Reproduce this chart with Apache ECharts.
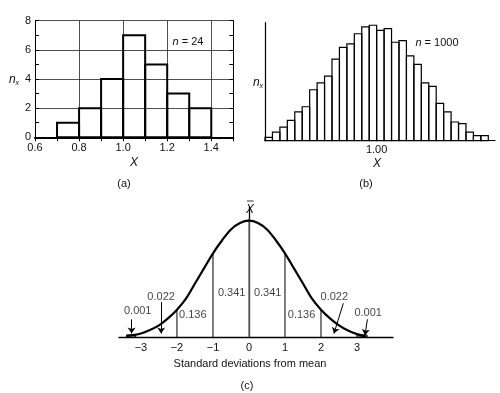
<!DOCTYPE html>
<html><head><meta charset="utf-8">
<script src="https://cdn.jsdelivr.net/npm/echarts@6/dist/echarts.min.js"></script>
<style>html,body{margin:0;padding:0;background:#fff}#c{width:500px;height:393px}</style>
</head><body><div id="c"></div>
<script>
// ---------- Panel (a): n = 24 ----------
const aBinStarts = [0.7, 0.8, 0.9, 1.0, 1.1, 1.2, 1.3];
const aBinWidth = 0.1;
const aCounts = [1, 2, 4, 7, 5, 3, 2];
const aXTicks = [0.6, 0.8, 1.0, 1.2, 1.4];
const aYTicks = [0, 2, 4, 6, 8];

// ---------- Panel (b): n = 1000 ----------
const bBinStart = 0.70;
const bBinWidth = 0.02;
const bCounts = [2, 5, 8, 12, 17, 20, 30, 34, 38, 48, 55, 57, 63, 67, 68,
                 65, 66, 58, 59, 50, 45, 34, 32, 22, 17, 11, 10, 5, 3, 3];
const bXTickValues = [1.0];
const bXTickLabels = ['1.00'];

// ---------- Panel (c): normal curve ----------
const cCurveX = [-3.4, -3.25, -3, -2.75, -2.5, -2.25, -2, -1.75, -1.5, -1.25, -1, -0.75, -0.5, -0.25, 0,
                 0.25, 0.5, 0.75, 1, 1.25, 1.5, 1.75, 2, 2.25, 2.5, 2.75, 3, 3.25];
const cCurveY = [0.008, 0.015, 0.03, 0.06, 0.10, 0.16, 0.235, 0.33, 0.46, 0.59, 0.72, 0.83, 0.925, 0.98, 1.0,
                 0.98, 0.925, 0.83, 0.72, 0.59, 0.46, 0.33, 0.235, 0.16, 0.10, 0.055, 0.025, 0.004];
const cTicks = [-3, -2, -1, 0, 1, 2, 3];
const cDividerX = [-2, -1, 0, 1, 2];
const cDividerH = [0.235, 0.72, 1.02, 0.72, 0.235];
const cInnerLabels = ['0.136', '0.341', '0.341', '0.136'];
const cInnerLabelPos = [[-1.56, 0.19], [-0.48, 0.376], [0.52, 0.376], [1.46, 0.19]];
const cTailLabels = ['0.001', '0.022', '0.022', '0.001'];
const cTailLabelPos = [[-3.09, 0.224], [-2.44, 0.347], [2.37, 0.344], [3.31, 0.206]];
const cArrows = [
  [[-3.26, 0.152], [-3.26, 0.03]],
  [[-2.44, 0.30], [-2.44, 0.03]],
  [[2.62, 0.29], [2.36, 0.03]],
  [[3.29, 0.152], [3.22, 0.015]]
];
const cTailBoxes = [[-3.4, -3.15, 0.018], [3.0, 3.28, 0.018]];

const FONT = '"Liberation Sans", Arial, sans-serif';
const BLACK = '#111';

const chart = echarts.init(document.getElementById('c'), null, {renderer: 'canvas'});

function rectItem(params, api, lw) {
  const p0 = api.coord([api.value(0), 0]);
  const p1 = api.coord([api.value(1), api.value(2)]);
  return {
    type: 'rect',
    shape: {x: p0[0], y: p1[1], width: p1[0] - p0[0], height: p0[1] - p1[1]},
    style: {fill: 'none', stroke: '#000', lineWidth: lw}
  };
}

const hiddenAxisBits = {axisTick: {show: false}, axisLabel: {show: false}, splitLine: {show: false}};

const option = {
  backgroundColor: '#fff',
  animation: false,
  grid: [
    {left: 35, top: 20.7, width: 198.3, height: 116.6, outerBoundsMode: 'none'},
    {left: 265, top: 22.7, width: 230, height: 118, outerBoundsMode: 'none'},
    {left: 119, top: 207, width: 274, height: 130, outerBoundsMode: 'none'}
  ],
  xAxis: [
    { gridIndex: 0, type: 'value', min: 0.6, max: 1.5, interval: 0.2, position: 'bottom',
      axisLine: {lineStyle: {color: '#000', width: 2}},
      axisTick: {show: false},
      axisLabel: {color: BLACK, fontSize: 11, fontFamily: FONT, margin: 5,
        formatter: v => { const t = aXTicks.find(k => Math.abs(k - v) < 1e-6); return t === undefined ? '' : t.toFixed(1); }},
      splitLine: {show: true, lineStyle: {color: '#222', width: 0.8}} },
    { gridIndex: 0, type: 'value', min: 0.6, max: 1.5, interval: 0.1, position: 'top',
      axisLine: {show: true, lineStyle: {color: '#000', width: 1}},
      axisTick: {show: true, inside: true, length: 4, lineStyle: {color: '#000'}},
      axisLabel: {show: false}, splitLine: {show: false} },
    { gridIndex: 1, type: 'value', min: 0.70, max: 1.318,
      axisLine: {lineStyle: {color: '#000', width: 1.2}},
      axisTick: {show: false},
      axisLabel: {color: BLACK, fontSize: 11, fontFamily: FONT, margin: 4,
        customValues: bXTickValues,
        formatter: v => { const i = bXTickValues.findIndex(k => Math.abs(k - v) < 1e-6); return i < 0 ? '' : bXTickLabels[i]; }},
      splitLine: {show: false} },
    { gridIndex: 2, type: 'value', min: -3.61, max: 4.0,
      axisLine: {lineStyle: {color: '#000', width: 1.3}},
      axisTick: {show: false},
      axisLabel: {color: BLACK, fontSize: 11, fontFamily: FONT, margin: 5,
        customValues: cTicks,
        formatter: v => String(Math.round(v)).replace('-', '\u2212')},
      splitLine: {show: false} }
  ],
  yAxis: [
    { gridIndex: 0, type: 'value', min: 0, max: 8, interval: 2, position: 'left',
      axisLine: {show: true, lineStyle: {color: '#000', width: 1}},
      axisTick: {show: false},
      axisLabel: {color: BLACK, fontSize: 11, fontFamily: FONT, margin: 4,
        formatter: v => aYTicks.includes(v) ? String(v) : ''},
      splitLine: {show: true, lineStyle: {color: '#222', width: 0.8}} },
    { gridIndex: 0, type: 'value', min: 0, max: 8, interval: 1, position: 'right',
      axisLine: {show: true, lineStyle: {color: '#000', width: 1}},
      axisTick: {show: true, inside: true, length: 4, lineStyle: {color: '#000'}},
      axisLabel: {show: false}, splitLine: {show: false} },
    { gridIndex: 0, type: 'value', min: 0, max: 8, interval: 1, position: 'left',
      axisLine: {show: false},
      axisTick: {show: true, inside: true, length: 4, lineStyle: {color: '#000'}},
      axisLabel: {show: false}, splitLine: {show: false} },
    Object.assign({ gridIndex: 1, type: 'value', min: 0, max: 69.5,
      axisLine: {show: true, lineStyle: {color: '#000', width: 1.2}} }, hiddenAxisBits),
    Object.assign({ gridIndex: 2, type: 'value', min: 0, max: 1.118,
      axisLine: {show: true, lineStyle: {color: '#000', width: 1.3}} }, hiddenAxisBits)
  ],
  series: [
    { type: 'custom', xAxisIndex: 0, yAxisIndex: 0, silent: true, z: 5,
      data: aBinStarts.map((s, i) => [s, s + aBinWidth, aCounts[i]]),
      renderItem: (p, api) => rectItem(p, api, 2) },
    { type: 'custom', xAxisIndex: 2, yAxisIndex: 3, silent: true, z: 5,
      data: bCounts.map((c, i) => [bBinStart + i * bBinWidth, bBinStart + (i + 1) * bBinWidth, c]),
      renderItem: (p, api) => rectItem(p, api, 1.2) },
    { type: 'line', xAxisIndex: 3, yAxisIndex: 4, silent: true, z: 6,
      data: cCurveX.map((x, i) => [x, cCurveY[i]]),
      smooth: 0.35, showSymbol: false, symbol: 'none',
      lineStyle: {color: '#000', width: 2.2} },
    { type: 'custom', xAxisIndex: 3, yAxisIndex: 4, silent: true, z: 4,
      data: cDividerX.map((x, i) => [x, cDividerH[i]]),
      renderItem: (p, api) => {
        const a = api.coord([api.value(0), 0]);
        const b = api.coord([api.value(0), api.value(1)]);
        const isMean = Math.abs(api.value(0)) < 1e-9;
        return {type: 'line', shape: {x1: a[0], y1: a[1], x2: b[0], y2: b[1]},
          style: {stroke: isMean ? '#777' : '#000', lineWidth: isMean ? 1.4 : 1}};
      } },
    { type: 'custom', xAxisIndex: 3, yAxisIndex: 4, silent: true, z: 4,
      data: cTailBoxes,
      renderItem: (p, api) => rectItem(p, api, 1) },
    { type: 'lines', coordinateSystem: 'cartesian2d', xAxisIndex: 3, yAxisIndex: 4, silent: true, z: 7,
      polyline: false,
      symbol: ['none', 'arrow'], symbolSize: 6,
      lineStyle: {color: '#000', width: 1, opacity: 1, curveness: 0},
      data: cArrows.map(c => ({coords: c})) },
    { type: 'scatter', xAxisIndex: 3, yAxisIndex: 4, silent: true, z: 8,
      symbolSize: 1, itemStyle: {color: 'rgba(0,0,0,0)'},
      label: {show: true, position: 'inside', formatter: '{b}', color: BLACK, fontSize: 11, fontFamily: FONT},
      data: cInnerLabels.map((t, i) => ({name: t, value: cInnerLabelPos[i]})) },
    { type: 'scatter', xAxisIndex: 3, yAxisIndex: 4, silent: true, z: 8,
      symbolSize: 1, itemStyle: {color: 'rgba(0,0,0,0)'},
      label: {show: true, position: 'inside', formatter: '{b}', color: BLACK, fontSize: 11, fontFamily: FONT},
      data: cTailLabels.map((t, i) => ({name: t, value: cTailLabelPos[i]})) }
  ],
  graphic: [
    {type: 'text', x: 14, y: 80, style: {text: '{n|n}{s|x}', align: 'center', verticalAlign: 'middle',
      rich: {n: {fontSize: 12, fontStyle: 'italic', fontFamily: FONT, fill: BLACK, color: BLACK},
             s: {fontSize: 7, fontStyle: 'italic', fontFamily: FONT, fill: BLACK, color: BLACK, padding: [6, 0, 0, 0]}}}},
    {type: 'text', x: 188, y: 42, style: {text: '{i|n} = 24', align: 'center', verticalAlign: 'middle',
      font: '11px ' + FONT, fill: BLACK,
      rich: {i: {fontStyle: 'italic', fontSize: 11, fontFamily: FONT, fill: BLACK, color: BLACK}}}},
    {type: 'text', x: 134, y: 163, style: {text: 'X', align: 'center', verticalAlign: 'middle',
      font: 'italic 12px ' + FONT, fill: BLACK}},
    {type: 'text', x: 124, y: 184, style: {text: '(a)', align: 'center', verticalAlign: 'middle',
      font: '11px ' + FONT, fill: BLACK}},
    {type: 'text', x: 258, y: 83, style: {text: '{n|n}{s|x}', align: 'center', verticalAlign: 'middle',
      rich: {n: {fontSize: 12, fontStyle: 'italic', fontFamily: FONT, fill: BLACK, color: BLACK},
             s: {fontSize: 7, fontStyle: 'italic', fontFamily: FONT, fill: BLACK, color: BLACK, padding: [6, 0, 0, 0]}}}},
    {type: 'text', x: 437, y: 43, style: {text: '{i|n} = 1000', align: 'center', verticalAlign: 'middle',
      font: '11px ' + FONT, fill: BLACK,
      rich: {i: {fontStyle: 'italic', fontSize: 11, fontFamily: FONT, fill: BLACK, color: BLACK}}}},
    {type: 'text', x: 377, y: 164, style: {text: 'X', align: 'center', verticalAlign: 'middle',
      font: 'italic 12px ' + FONT, fill: BLACK}},
    {type: 'text', x: 366, y: 184, style: {text: '(b)', align: 'center', verticalAlign: 'middle',
      font: '11px ' + FONT, fill: BLACK}},
    {type: 'text', x: 250, y: 210, style: {text: 'X', align: 'center', verticalAlign: 'middle',
      font: 'italic 12px ' + FONT, fill: BLACK}},
    {type: 'line', shape: {x1: 247, y1: 201, x2: 253.5, y2: 201}, style: {stroke: '#333', lineWidth: 1}},
    {type: 'text', x: 250, y: 364, style: {text: 'Standard deviations from mean', align: 'center', verticalAlign: 'middle',
      font: '11px ' + FONT, fill: BLACK}},
    {type: 'text', x: 247, y: 386, style: {text: '(c)', align: 'center', verticalAlign: 'middle',
      font: '11px ' + FONT, fill: BLACK}}
  ]
};
chart.setOption(option);
</script>
</body></html>
